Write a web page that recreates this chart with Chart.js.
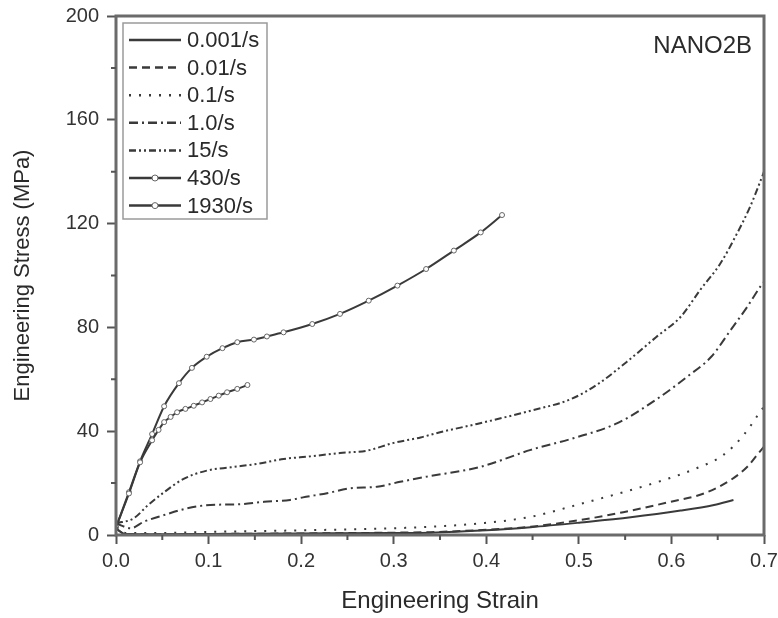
<!DOCTYPE html>
<html>
<head>
<meta charset="utf-8">
<script src="https://cdn.jsdelivr.net/npm/chart.js@4.4.1/dist/chart.umd.min.js"></script>
<style>
  html, body { margin: 0; padding: 0; background: #fff; }
  #wrap { width: 778px; height: 618px; }
</style>
</head>
<body>
<div id="wrap"><canvas id="stressChart" width="778" height="618"></canvas></div>
<script>
// values (strain, MPa)
const rateLabels = ["0.001/s", "0.01/s", "0.1/s", "1.0/s", "15/s", "430/s", "1930/s"];

const strain0001 = [0, 0.01, 0.05, 0.1, 0.2, 0.3, 0.34, 0.4, 0.448, 0.502, 0.556, 0.61, 0.646, 0.667];
const stress0001 = [2.5, 0.4, 0.3, 0.4, 0.6, 0.8, 0.9, 1.8, 3.0, 4.8, 6.8, 9.4, 11.6, 13.5];

const strain001 = [0, 0.01, 0.05, 0.1, 0.2, 0.3, 0.34, 0.4, 0.448, 0.502, 0.548, 0.599, 0.635, 0.664, 0.682, 0.694, 0.7];
const stress001 = [2.5, 0.4, 0.3, 0.4, 0.6, 0.9, 1.1, 2.0, 3.2, 5.8, 8.8, 12.8, 16.0, 21.2, 26.3, 31.5, 34];

const strain01 = [0, 0.01, 0.05, 0.1, 0.2, 0.3, 0.34, 0.394, 0.448, 0.502, 0.548, 0.592, 0.627, 0.656, 0.678, 0.694, 0.7];
const stress01 = [3, 0.8, 0.8, 1.2, 1.8, 2.6, 3.2, 4.5, 7.0, 12.0, 16.5, 21.2, 25.7, 30.8, 38.5, 46.5, 49.5];

const strain10 = [0, 0.016, 0.03, 0.052, 0.077, 0.102, 0.131, 0.16, 0.188, 0.202, 0.228, 0.253, 0.282, 0.307, 0.336, 0.394, 0.448, 0.494, 0.541, 0.584, 0.617, 0.643, 0.664, 0.682, 0.696, 0.7];
const stress10 = [4.5, 2.6, 5.1, 7.7, 10.3, 11.6, 11.8, 12.8, 13.5, 14.5, 16.1, 18.0, 18.6, 20.5, 22.5, 26.3, 32.8, 37.3, 43.0, 52.3, 61.0, 68.7, 79.0, 88.0, 95.7, 97.5];

const strain15 = [0, 0.019, 0.034, 0.052, 0.073, 0.098, 0.124, 0.152, 0.181, 0.21, 0.242, 0.271, 0.3, 0.329, 0.35, 0.39, 0.448, 0.491, 0.52, 0.552, 0.584, 0.61, 0.631, 0.653, 0.671, 0.685, 0.698, 0.7];
const stress15 = [4.5, 6.4, 11.3, 16.5, 21.6, 24.8, 26.1, 27.4, 29.3, 30.3, 31.6, 32.5, 35.5, 37.6, 39.6, 42.8, 47.9, 52.3, 58.0, 66.8, 76.4, 84.1, 94.4, 104.7, 116.3, 126.5, 138.1, 140];

const strain430 = [0, 0.014, 0.026, 0.039, 0.046, 0.052, 0.059, 0.066, 0.075, 0.084, 0.093, 0.102, 0.111, 0.12, 0.131, 0.142];
const stress430 = [3, 16, 28, 36.5, 40.5, 43.5, 45.5, 47.3, 48.6, 49.8, 51.1, 52.4, 53.7, 55, 56.3, 57.8];

const strain1930 = [0, 0.014, 0.026, 0.039, 0.052, 0.068, 0.082, 0.098, 0.115, 0.131, 0.149, 0.163, 0.181, 0.212, 0.242, 0.273, 0.304, 0.335, 0.365, 0.394, 0.417];
const stress1930 = [3, 16.5, 28.4, 38.9, 49.6, 58.5, 64.4, 68.7, 72.0, 74.3, 75.3, 76.5, 78.1, 81.3, 85.2, 90.3, 96.1, 102.5, 109.6, 116.6, 123.3];

const xTicks = [0, 0.1, 0.2, 0.3, 0.4, 0.5, 0.6, 0.7];
const yTicks = [0, 40, 80, 120, 160, 200];
const xMinorTicks = [0.05, 0.15, 0.25, 0.35, 0.45, 0.55, 0.65];
const yMinorTicks = [20, 60, 100, 140, 180];

const lineColor = "#3a3a3a";
const fontFamily = "'Liberation Sans', Arial, sans-serif";

function pairs(xs, ys) {
  return xs.map((x, i) => ({ x: x, y: ys[i] }));
}

function makeSet(label, xs, ys, dash, markers) {
  return {
    label: label,
    data: pairs(xs, ys),
    showLine: true,
    borderColor: lineColor,
    borderWidth: 2,
    borderDash: dash,
    cubicInterpolationMode: "monotone",
    pointRadius: markers ? 2.5 : 0,
    pointStyle: "circle",
    pointBackgroundColor: "#fff",
    pointBorderColor: "#666",
    pointBorderWidth: 1,
    fill: false
  };
}

// frame round the plot + short minor ticks
const framePlugin = {
  id: "frame",
  afterDatasetsDraw(chart) {
    const { ctx, chartArea: a, scales } = chart;
    ctx.save();
    ctx.strokeStyle = "#6b6b6b";
    ctx.lineWidth = 3;
    ctx.strokeRect(a.left, a.top, a.right - a.left, a.bottom - a.top);

    ctx.strokeStyle = "#555";
    ctx.lineWidth = 2;
    ctx.beginPath();
    xMinorTicks.forEach(v => {
      const px = scales.x.getPixelForValue(v);
      ctx.moveTo(px, a.bottom);
      ctx.lineTo(px, a.bottom + 5);
    });
    yMinorTicks.forEach(v => {
      const py = scales.y.getPixelForValue(v);
      ctx.moveTo(a.left, py);
      ctx.lineTo(a.left - 5, py);
    });
    ctx.stroke();
    ctx.restore();
  }
};

// boxed legend in the top-left corner, plus the sample label
const boxLegendPlugin = {
  id: "boxLegend",
  afterDraw(chart) {
    const { ctx, chartArea: a } = chart;
    const left = a.left + 7, top = a.top + 7;
    const rowH = 27.6;
    ctx.save();
    ctx.fillStyle = "#fff";
    ctx.fillRect(left, top, 144, 196);
    ctx.strokeStyle = "#9a9a9a";
    ctx.lineWidth = 1.5;
    ctx.strokeRect(left, top, 144, 196);

    ctx.font = "22px " + fontFamily;
    ctx.textBaseline = "middle";
    chart.data.datasets.forEach((ds, i) => {
      const y = top + 17 + i * rowH;
      ctx.strokeStyle = lineColor;
      ctx.lineWidth = 2.5;
      ctx.setLineDash(ds.borderDash || []);
      ctx.beginPath();
      ctx.moveTo(left + 6, y);
      ctx.lineTo(left + 58, y);
      ctx.stroke();
      ctx.setLineDash([]);
      if (ds.pointRadius > 0) {
        ctx.beginPath();
        ctx.arc(left + 32, y, 3, 0, Math.PI * 2);
        ctx.fillStyle = "#fff";
        ctx.fill();
        ctx.strokeStyle = "#666";
        ctx.lineWidth = 1;
        ctx.stroke();
      }
      ctx.fillStyle = "#2a2a2a";
      ctx.fillText(ds.label, left + 64, y + 1);
    });

    ctx.textAlign = "right";
    ctx.font = "24px " + fontFamily;
    ctx.fillText("NANO2B", a.right - 12, a.top + 30);
    ctx.restore();
  }
};

const ctx = document.getElementById("stressChart").getContext("2d");

new Chart(ctx, {
  type: "scatter",
  data: {
    datasets: [
      makeSet(rateLabels[0], strain0001, stress0001, [], false),
      makeSet(rateLabels[1], strain001, stress001, [8, 5], false),
      makeSet(rateLabels[2], strain01, stress01, [2, 8], false),
      makeSet(rateLabels[3], strain10, stress10, [9, 4, 2, 4], false),
      makeSet(rateLabels[4], strain15, stress15, [7, 3, 2, 3, 2, 3], false),
      makeSet(rateLabels[5], strain430, stress430, [], true),
      makeSet(rateLabels[6], strain1930, stress1930, [], true)
    ]
  },
  options: {
    responsive: false,
    animation: false,
    devicePixelRatio: 1,
    layout: { padding: { top: 16, right: 14, left: 0, bottom: 0 } },
    plugins: {
      legend: { display: false },
      tooltip: { enabled: false }
    },
    scales: {
      x: {
        type: "linear",
        min: 0,
        max: 0.7,
        afterBuildTicks: s => { s.ticks = xTicks.map(v => ({ value: v })); },
        afterFit: s => { s.height = 83; s.paddingLeft = 0; s.paddingRight = 0; },
        ticks: {
          callback: v => v.toFixed(1),
          font: { size: 20, family: fontFamily },
          color: "#333",
          padding: 5,
          maxRotation: 0
        },
        grid: { drawOnChartArea: false, drawTicks: true, tickLength: 9, tickColor: "#555", tickWidth: 2 },
        border: { display: false },
        title: {
          display: true,
          text: "Engineering Strain",
          font: { size: 24, family: fontFamily },
          color: "#2a2a2a",
          padding: { top: 0, bottom: 2 }
        }
      },
      y: {
        type: "linear",
        min: 0,
        max: 200,
        afterBuildTicks: s => { s.ticks = yTicks.map(v => ({ value: v })); },
        afterFit: s => { s.width = 116; s.paddingTop = 0; s.paddingBottom = 0; },
        ticks: {
          font: { size: 20, family: fontFamily },
          color: "#333",
          padding: 8
        },
        grid: { drawOnChartArea: false, drawTicks: true, tickLength: 9, tickColor: "#555", tickWidth: 2 },
        border: { display: false },
        title: {
          display: true,
          text: "Engineering Stress (MPa)",
          font: { size: 22, family: fontFamily },
          color: "#2a2a2a",
          padding: { top: 10, bottom: 0 }
        }
      }
    }
  },
  plugins: [framePlugin, boxLegendPlugin]
});
</script>
</body>
</html>
